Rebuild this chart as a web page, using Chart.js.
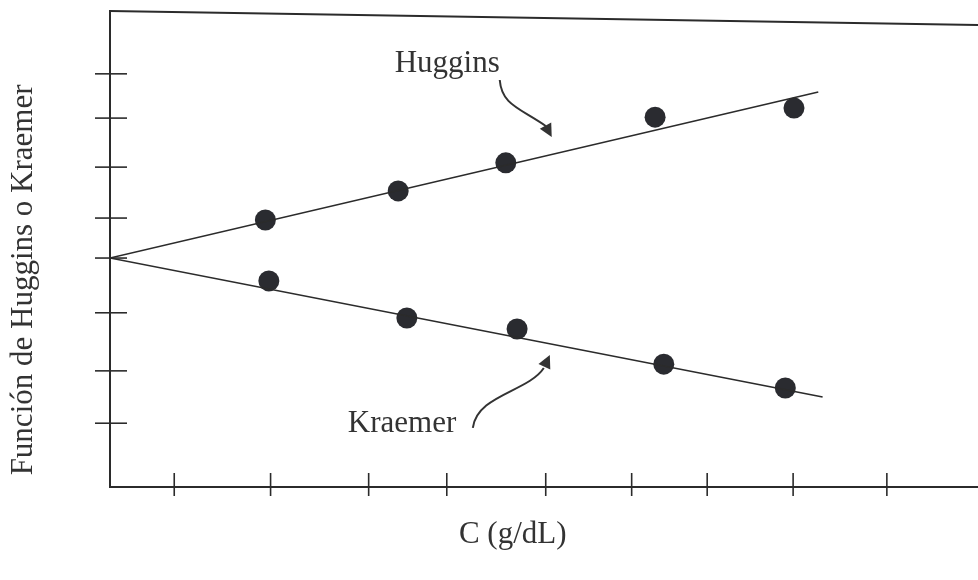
<!DOCTYPE html>
<html>
<head>
<meta charset="utf-8">
<script src="https://cdn.jsdelivr.net/npm/chart.js@4.4.1/dist/chart.umd.min.js"></script>
<style>
  html, body { margin: 0; padding: 0; background: #fff; }
  #wrap { width: 978px; height: 580px; }
</style>
</head>
<body>
<div id="wrap"><canvas id="myChart"></canvas></div>
<script>
// values (arbitrary units, no tick labels in the original)
const hugginsC = [1.79, 3.32, 4.56, 6.28, 7.88];
const hugginsF = [5.61, 6.22, 6.81, 7.77, 7.96];
const kraemerC = [1.83, 3.42, 4.69, 6.38, 7.78];
const kraemerF = [4.33, 3.55, 3.32, 2.58, 2.08];

const hugginsFitC = [0, 8.16];
const hugginsFitF = [4.81, 8.30];
const kraemerFitC = [0, 8.21];
const kraemerFitF = [4.81, 1.89];

const xTickValues = [0.74, 1.85, 2.98, 3.88, 5.02, 6.01, 6.88, 7.87, 8.95];
const yTickValues = [1.34, 2.44, 3.66, 4.81, 5.65, 6.72, 7.75, 8.68];

const xTitle = 'C (g/dL)';
const yTitle = 'Función de Huggins o Kraemer';

const ink = '#2b2b2b';
const textInk = '#333333';
const serif = '"Liberation Serif", "DejaVu Serif", serif';

const toPoints = (xs, ys) => xs.map((x, i) => ({ x, y: ys[i] }));

const drawArrow = (ctx, p0, p1, p2, p3, tip) => {
    ctx.beginPath();
    ctx.moveTo(p0[0], p0[1]);
    ctx.bezierCurveTo(p1[0], p1[1], p2[0], p2[1], p3[0], p3[1]);
    ctx.stroke();
    // arrow head
    const dx = tip[0] - p3[0];
    const dy = tip[1] - p3[1];
    const len = Math.hypot(dx, dy);
    const ux = dx / len, uy = dy / len;
    const back = 13, half = 6.5;
    const bx = tip[0] - ux * back, by = tip[1] - uy * back;
    ctx.beginPath();
    ctx.moveTo(tip[0], tip[1]);
    ctx.lineTo(bx - uy * half, by + ux * half);
    ctx.lineTo(bx + uy * half, by - ux * half);
    ctx.closePath();
    ctx.fill();
};

const decorPlugin = {
    id: 'decor',
    afterDraw(chart) {
        const { ctx, chartArea, scales } = chart;
        const { left, right, top, bottom } = chartArea;
        const xs = scales.x, ys = scales.y;
        ctx.save();
        ctx.strokeStyle = ink;
        ctx.fillStyle = ink;
        ctx.lineWidth = 2;

        // top frame line (slightly skewed like the scan)
        ctx.beginPath();
        ctx.moveTo(left, top);
        ctx.lineTo(right, top + 14);
        ctx.stroke();

        // tick marks crossing the axes
        ctx.lineWidth = 1.6;
        ys.ticks.forEach(t => {
            const py = ys.getPixelForValue(t.value);
            ctx.beginPath();
            ctx.moveTo(left - 15, py);
            ctx.lineTo(left + 17, py);
            ctx.stroke();
        });
        xs.ticks.forEach(t => {
            const px = xs.getPixelForValue(t.value);
            ctx.beginPath();
            ctx.moveTo(px, bottom - 14);
            ctx.lineTo(px, bottom + 9);
            ctx.stroke();
        });

        // labels
        ctx.fillStyle = textInk;
        ctx.font = `31px ${serif}`;
        ctx.textBaseline = 'alphabetic';
        ctx.textAlign = 'left';
        ctx.fillText('Huggins', xs.getPixelForValue(3.28), ys.getPixelForValue(8.72));
        ctx.fillText('Kraemer', xs.getPixelForValue(2.74), ys.getPixelForValue(1.16));

        ctx.textAlign = 'center';
        ctx.fillText(xTitle, xs.getPixelForValue(4.64), bottom + 56);

        ctx.save();
        ctx.translate(left - 78, ys.getPixelForValue(4.35));
        ctx.rotate(-Math.PI / 2);
        ctx.fillText(yTitle, 0, 0);
        ctx.restore();

        // curved arrows
        ctx.strokeStyle = textInk;
        ctx.fillStyle = textInk;
        ctx.lineWidth = 2;
        const hx = xs.getPixelForValue(4.49), hy = ys.getPixelForValue(8.55);
        drawArrow(ctx, [hx, hy], [hx + 2, hy + 25], [hx + 20, hy + 28], [hx + 46, hy + 46], [hx + 52, hy + 57]);
        const kx = xs.getPixelForValue(4.18), ky = ys.getPixelForValue(1.24);
        drawArrow(ctx, [kx, ky], [kx + 4, ky - 33], [kx + 55, ky - 36], [kx + 71, ky - 60], [kx + 77, ky - 73]);

        ctx.restore();
    }
};

const ctx = document.getElementById('myChart');

const chart = new Chart(ctx, {
    type: 'scatter',
    data: {
        datasets: [
            {
                label: 'Huggins ajuste',
                type: 'line',
                data: toPoints(hugginsFitC, hugginsFitF),
                borderColor: ink,
                borderWidth: 1.6,
                pointRadius: 0,
                fill: false,
            },
            {
                label: 'Kraemer ajuste',
                type: 'line',
                data: toPoints(kraemerFitC, kraemerFitF),
                borderColor: ink,
                borderWidth: 1.6,
                pointRadius: 0,
                fill: false,
            },
            {
                label: 'Huggins',
                data: toPoints(hugginsC, hugginsF),
                backgroundColor: '#2a2b30',
                borderWidth: 0,
                pointRadius: 10.5,
            },
            {
                label: 'Kraemer',
                data: toPoints(kraemerC, kraemerF),
                backgroundColor: '#2a2b30',
                borderWidth: 0,
                pointRadius: 10.5,
            },
        ],
    },
    options: {
        responsive: true,
        maintainAspectRatio: false,
        animation: false,
        devicePixelRatio: 1,
        layout: { autoPadding: false, padding: { top: 11, right: 0, bottom: 0, left: 0 } },
        plugins: {
            legend: { display: false },
            tooltip: { enabled: false },
        },
        scales: {
            x: {
                type: 'linear',
                min: 0,
                max: 10,
                ticks: { display: false },
                grid: { display: false },
                border: { display: true, color: ink, width: 2 },
                afterBuildTicks: (scale) => {
                    scale.ticks = xTickValues.map(value => ({ value }));
                },
                afterFit: (scale) => { scale.height = 93; },
            },
            y: {
                type: 'linear',
                min: 0,
                max: 10,
                ticks: { display: false },
                grid: { display: false },
                border: { display: true, color: ink, width: 2 },
                afterBuildTicks: (scale) => {
                    scale.ticks = yTickValues.map(value => ({ value }));
                },
                afterFit: (scale) => { scale.width = 110; },
            },
        },
    },
    plugins: [decorPlugin],
});
</script>
</body>
</html>
